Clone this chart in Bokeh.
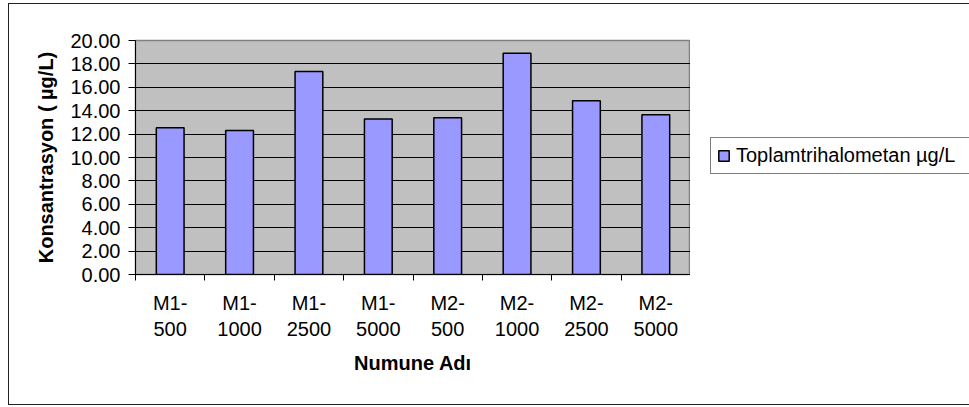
from bokeh.plotting import figure
from bokeh.layouts import row
from bokeh.models import (Range1d, LinearAxis, FixedTicker, NumeralTickFormatter,
                          Legend, LegendItem, ColumnDataSource, InlineStyleSheet)
from bokeh.embed import file_html
from bokeh.resources import INLINE

# Sample names, their two-line tick labels and total trihalomethane values (µg/L)
categories = ["M1-500", "M1-1000", "M1-2500", "M1-5000",
              "M2-500", "M2-1000", "M2-2500", "M2-5000"]
tick_labels = ["M1-\n500", "M1-\n1000", "M1-\n2500", "M1-\n5000",
               "M2-\n500", "M2-\n1000", "M2-\n2500", "M2-\n5000"]
thm_values = [12.55, 12.3, 17.35, 13.3, 13.4, 18.9, 14.85, 13.65]
series_name = "Toplamtrihalometan µg/L"
y_ticks = [0, 2, 4, 6, 8, 10, 12, 14, 16, 18, 20]

FONT = "Liberation Sans"
BAR_STYLE = dict(fill_color="#9999FF", line_color="black", line_width=1.5)
n = len(categories)
# one unit-wide slot per sample: bar in the middle, ticks on the slot edges
slot_mid = [i + 0.5 for i in range(n)]
slot_edges = list(range(n + 1))

src = ColumnDataSource(dict(name=categories, x=slot_mid, thm=thm_values))

# chart-area border drawn around the whole chart (its right side runs off the page)
chart_border = InlineStyleSheet(css="""
:host { position: relative; overflow: hidden; }
:host::after {
  content: ""; position: absolute; left: 8px; top: 3px;
  width: 990px; height: 402px; box-sizing: border-box;
  border: 1.5px solid #222222; pointer-events: none; z-index: 10;
}
""")

# ---- bar chart ----
p = figure(x_range=Range1d(0, n), y_range=Range1d(0, 20),
           width=690, height=407,
           min_border_left=135, min_border_right=0,
           min_border_top=40, min_border_bottom=133,
           x_axis_location=None, y_axis_location="left",
           output_backend="svg", toolbar_location=None,
           background_fill_color="#C0C0C0", border_fill_color="white")
p.outline_line_color = "#808080"
p.outline_line_width = 1.5

bars = p.vbar(x="x", top="thm", width=0.4, source=src, **BAR_STYLE)

p.xgrid.visible = False
p.ygrid.grid_line_color = "black"
p.ygrid.grid_line_width = 1
p.ygrid.ticker = FixedTicker(ticks=y_ticks)

ya = p.yaxis[0]
ya.ticker = FixedTicker(ticks=y_ticks)
ya.formatter = NumeralTickFormatter(format="0.00")
ya.axis_label = "Konsantrasyon ( µg/L)"
ya.axis_label_text_font = FONT
ya.axis_label_text_font_style = "bold"
ya.axis_label_text_font_size = "20px"
ya.axis_label_text_color = "black"
ya.axis_label_standoff = 10
ya.major_label_text_font = FONT
ya.major_label_text_font_size = "20px"
ya.major_label_text_color = "black"
ya.major_label_standoff = 8
ya.major_tick_out = 7
ya.major_tick_in = 0
ya.minor_tick_out = 0
ya.minor_tick_in = 0
ya.axis_line_color = "black"
ya.major_tick_line_color = "black"

# x axis: labels at slot centres, ticks at slot edges
xa = LinearAxis(ticker=FixedTicker(ticks=slot_mid, minor_ticks=slot_edges),
                major_label_overrides={c: lab for c, lab in zip(slot_mid, tick_labels)})
xa.axis_label = "Numune Adı"
xa.axis_label_text_font = FONT
xa.axis_label_text_font_style = "bold"
xa.axis_label_text_font_size = "20px"
xa.axis_label_text_color = "black"
xa.axis_label_standoff = 9
xa.major_label_text_font = FONT
xa.major_label_text_font_size = "20px"
xa.major_label_text_color = "black"
xa.major_label_standoff = 11
xa.major_tick_out = 0
xa.major_tick_in = 0
xa.minor_tick_out = 6
xa.minor_tick_in = 0
xa.minor_tick_line_color = "black"
xa.axis_line_color = "black"
p.add_layout(xa, "below")

# ---- legend panel to the right of the chart (its frame lines up with the chart's) ----
q = figure(x_range=Range1d(0, 1), y_range=Range1d(0, 1),
           width=279, height=407, min_border=0,
           x_axis_location=None, y_axis_location=None,
           output_backend="svg", toolbar_location=None,
           background_fill_color="white", border_fill_color="white")
q.outline_line_color = None
q.grid.visible = False
# same series, hidden here: it only supplies the legend swatch
swatch = q.vbar(x="x", top="thm", width=0.4, source=src, visible=False, **BAR_STYLE)

legend = Legend(items=[LegendItem(label=series_name, renderers=[swatch])],
                location=(20, 100), orientation="vertical",
                label_text_font=FONT, label_text_font_size="20px",
                label_text_color="black",
                glyph_width=13, glyph_height=13, label_standoff=6,
                label_width=240, padding=6, margin=0, spacing=0,
                border_line_color="black", border_line_width=1,
                background_fill_color="white", background_fill_alpha=1,
                inactive_fill_alpha=0)
q.add_layout(legend, "center")

layout = row(p, q, stylesheets=[chart_border])

open("out.html", "w").write(file_html(layout, INLINE))
